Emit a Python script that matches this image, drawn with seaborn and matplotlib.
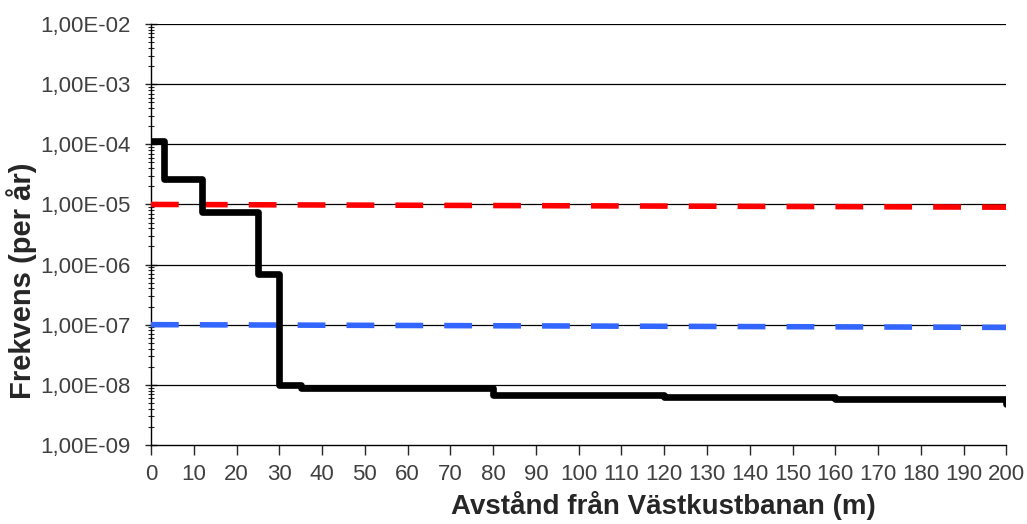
"""
Frekvens som funktion av avstånd från Västkustbanan (stegkurva, log-skala).
"""

import matplotlib
from matplotlib import pyplot as plt
from matplotlib import ticker
import seaborn as sns
import pandas as pd

matplotlib.use('Agg')

sns.set_style("white")
plt.rcParams['font.family'] = ['Liberation Sans', 'DejaVu Sans']

# Stegkurva: frekvens per år mot avstånd (m)
avstand = [0, 3, 12, 25, 30, 35, 80, 120, 160, 200, 200]
frekvens = [1.15e-4, 2.7e-5, 7.6e-6, 7.0e-7, 1.0e-8, 9.0e-9, 6.7e-9, 6.2e-9, 5.8e-9, 4.8e-9, 4.8e-9]

# Acceptanskriterier (streckade linjer)
grans_x = [0, 200]
grans_ovre = [1.0e-5, 0.9e-5]
grans_undre = [1.0e-7, 0.9e-7]

x_ticks = list(range(0, 201, 10))
y_ticks = [1e-9, 1e-8, 1e-7, 1e-6, 1e-5, 1e-4, 1e-3, 1e-2]

df = pd.DataFrame({'avstand': avstand, 'frekvens': frekvens})
df_ovre = pd.DataFrame({'x': grans_x, 'y': grans_ovre})
df_undre = pd.DataFrame({'x': grans_x, 'y': grans_undre})

fig = plt.figure(figsize=(10.27, 5.24), dpi=100)
ax = fig.add_axes([0.147, 0.151, 0.833, 0.803])

sns.lineplot(x='x', y='y', data=df_ovre, ax=ax, color='#ff0000',
             linewidth=4, linestyle=(0, (5, 3.8)), zorder=3)
sns.lineplot(x='x', y='y', data=df_undre, ax=ax, color='#3366ff',
             linewidth=4, linestyle=(0, (5, 3.8)), zorder=3)
sns.lineplot(x='avstand', y='frekvens', data=df, ax=ax, color='black',
             linewidth=4.8, drawstyle='steps-post', estimator=None,
             sort=False, zorder=4)

ax.set_yscale('log')
ax.set_xlim(0, 200)
ax.set_ylim(1e-9, 1e-2)
ax.set_xticks(x_ticks)
ax.set_yticks(y_ticks)
ax.yaxis.set_minor_locator(ticker.LogLocator(base=10, subs=range(2, 10), numticks=20))
ax.yaxis.set_minor_formatter(ticker.NullFormatter())
ax.yaxis.set_major_formatter(
    ticker.FuncFormatter(lambda v, p: f"{v:.2E}".replace('.', ',')))

# Rutnät: bara horisontella linjer
ax.grid(False)
for v in y_ticks[1:]:
    ax.axhline(v, color='black', linewidth=0.9, zorder=1)

for s in ['top', 'right']:
    ax.spines[s].set_visible(False)
for s in ['left', 'bottom']:
    ax.spines[s].set_color('black')
    ax.spines[s].set_linewidth(1.0)

ax.tick_params(axis='y', which='major', direction='inout', length=8, width=1,
               labelsize=16, labelcolor='#404040', pad=11, left=True)
ax.tick_params(axis='y', which='minor', direction='inout', length=4, width=0.8, left=True)
ax.tick_params(axis='x', which='major', direction='out', length=7, width=1,
               labelsize=16, labelcolor='#404040', pad=7, bottom=True)

ax.set_xlabel('Avstånd från Västkustbanan (m)', fontsize=20, fontweight='bold')
ax.set_ylabel('Frekvens (per år)', fontsize=21, fontweight='bold')
ax.xaxis.label.set_va('center')
ax.yaxis.label.set_va('center')
ax.xaxis.set_label_coords(0.599, -0.143)
ax.yaxis.set_label_coords(-0.151, 0.39)

fig.savefig('out.png', dpi=100)
plt.close(fig)
